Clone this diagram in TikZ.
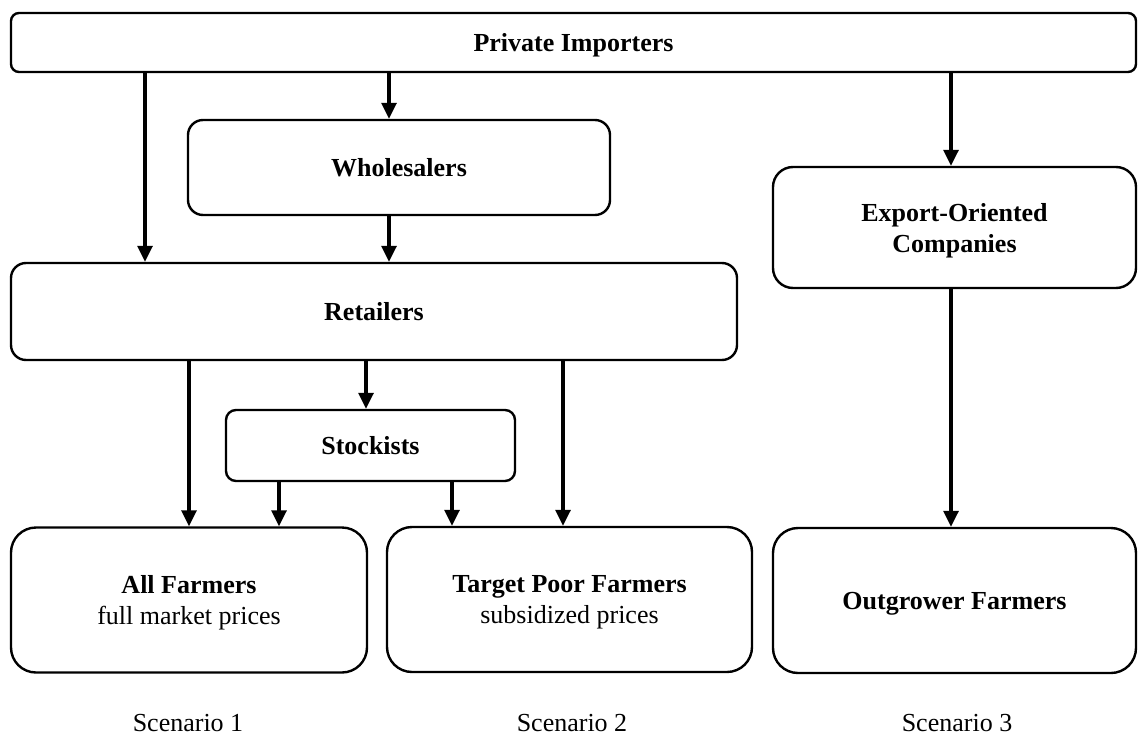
\documentclass[tikz,border=0pt]{standalone}
\usepackage{fontspec}
\setmainfont{Liberation Serif}
\usetikzlibrary{arrows.meta}
\tikzset{
  box/.style={draw, line width=2.4pt, rectangle, inner sep=0pt, align=center, text depth=0pt,
    font=\fontsize{26}{31}\selectfont\bfseries},
  lbl/.style={inner sep=0pt, font=\fontsize{26}{31}\selectfont},
  arr/.style={line width=3.2pt, -{Triangle[length=16pt,width=15pt]}}
}
\begin{document}
\begin{tikzpicture}[x=1pt,y=-1pt]
\useasboundingbox (0,0) rectangle (1138,736);
\node[box, rounded corners=8pt, minimum width=1125pt, minimum height=59pt] (PI) at (573.5,42.5) {Private Importers};
\node[box, rounded corners=15pt, minimum width=422pt, minimum height=95pt] (WS) at (399,167.5) {Wholesalers};
\node[box, rounded corners=15pt, minimum width=726pt, minimum height=97pt] (RT) at (374,311.5) {Retailers};
\node[box, rounded corners=10pt, minimum width=289pt, minimum height=71pt] (ST) at (370.5,445.5) {Stockists};
\node[box, rounded corners=20pt, minimum width=363pt, minimum height=121pt] (EX) at (954.5,227.5) {Export-Oriented\\Companies};
\node[box, rounded corners=25pt, minimum width=356pt, minimum height=145pt] (AF) at (189,600) {All Farmers\\\mdseries full market prices};
\node[box, rounded corners=25pt, minimum width=365pt, minimum height=145pt] (TP) at (569.5,599.5) {Target Poor Farmers\\\mdseries subsidized prices};
\node[box, rounded corners=25pt, minimum width=363pt, minimum height=145pt] (OF) at (954.5,600.5) {Outgrower Farmers};
\node[lbl] (S1) at (188,723) {Scenario 1};
\node[lbl] (S2) at (572,723) {Scenario 2};
\node[lbl] (S3) at (957,723) {Scenario 3};
\coordinate (xa) at (145,0);
\coordinate (xb) at (389,0);
\coordinate (xc) at (951,0);
\coordinate (xd) at (189,0);
\coordinate (xe) at (366,0);
\coordinate (xf) at (563,0);
\coordinate (xg) at (279,0);
\coordinate (xh) at (452,0);
\draw[arr] (PI.south -| xa) -- (RT.north -| xa);
\draw[arr] (PI.south -| xb) -- (WS.north -| xb);
\draw[arr] (WS.south -| xb) -- (RT.north -| xb);
\draw[arr] (PI.south -| xc) -- (EX.north -| xc);
\draw[arr] (EX.south -| xc) -- (OF.north -| xc);
\draw[arr] (RT.south -| xd) -- (AF.north -| xd);
\draw[arr] (RT.south -| xe) -- (ST.north -| xe);
\draw[arr] (RT.south -| xf) -- (TP.north -| xf);
\draw[arr] (ST.south -| xg) -- (AF.north -| xg);
\draw[arr] (ST.south -| xh) -- (TP.north -| xh);
\end{tikzpicture}
\end{document}
